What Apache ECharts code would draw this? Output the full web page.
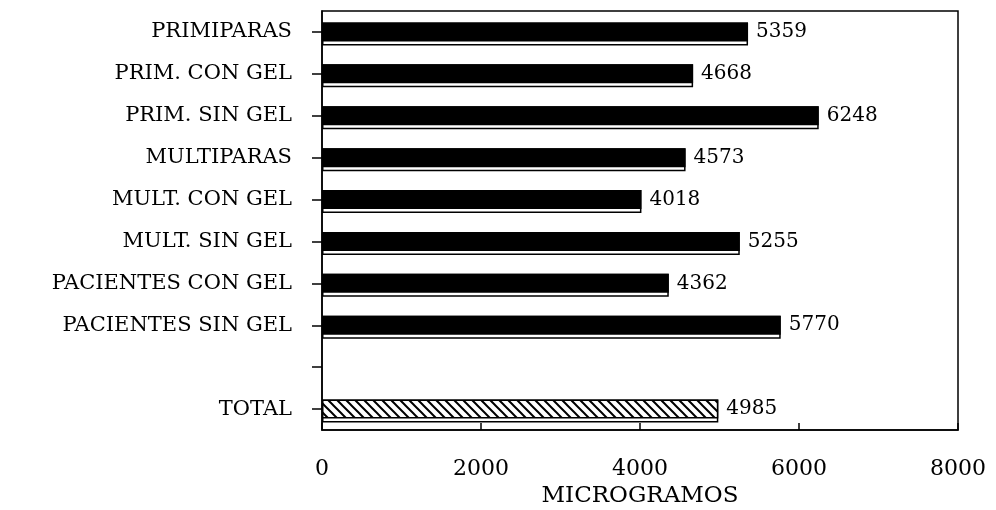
<!DOCTYPE html>
<html>
<head>
<meta charset="utf-8">
<script src="https://cdn.jsdelivr.net/npm/echarts@6/dist/echarts.min.js"></script>
<style>
  html, body { margin: 0; padding: 0; background: #fff; }
  #chart { width: 996px; height: 510px; }
</style>
</head>
<body>
<div id="chart"></div>
<script>
// categories top to bottom, the empty one is the gap row before TOTAL
const categories = [
  'PRIMIPARAS',
  'PRIM. CON GEL',
  'PRIM. SIN GEL',
  'MULTIPARAS',
  'MULT. CON GEL',
  'MULT. SIN GEL',
  'PACIENTES CON GEL',
  'PACIENTES SIN GEL',
  '',
  'TOTAL',
];
const values = [5359, 4668, 6248, 4573, 4018, 5255, 4362, 5770, null, 4985];
const xTicks = [0, 2000, 4000, 6000, 8000];

const FONT = 'DejaVu Serif';

// diagonal hatch for the TOTAL bar
function hatch() {
  const c = document.createElement('canvas');
  c.width = 9;
  c.height = 9;
  const ctx = c.getContext('2d');
  ctx.fillStyle = '#fff';
  ctx.fillRect(0, 0, 9, 9);
  ctx.strokeStyle = '#000';
  ctx.lineWidth = 2;
  ctx.beginPath();
  ctx.moveTo(-2, -2);
  ctx.lineTo(11, 11);
  ctx.moveTo(-11, -2);
  ctx.lineTo(2, 11);
  ctx.moveTo(7, -2);
  ctx.lineTo(20, 11);
  ctx.stroke();
  return c;
}
const hatchFill = { image: hatch(), repeat: 'repeat' };

const outlineData = values.map((v) => ({ value: v }));
const fillData = values.map((v, i) => {
  if (categories[i] === 'TOTAL') {
    return { value: v, itemStyle: { color: hatchFill, borderColor: '#000', borderWidth: 1.5 } };
  }
  return { value: v };
});

const chart = echarts.init(document.getElementById('chart'));
chart.setOption({
  animation: false,
  grid: {
    left: 322,
    right: 38,
    top: 11,
    bottom: 80,
    outerBoundsMode: 'none',
    show: true,
    borderColor: '#000',
    borderWidth: 1.5,
  },
  xAxis: {
    type: 'value',
    min: xTicks[0],
    max: xTicks[xTicks.length - 1],
    interval: 2000,
    splitLine: { show: false },
    axisLine: { show: true, lineStyle: { color: '#000', width: 1.5 } },
    axisTick: { show: true, inside: true, length: 7, lineStyle: { color: '#000', width: 1.5 } },
    axisLabel: {
      color: '#000',
      fontFamily: FONT,
      fontSize: 22,
      margin: 28,
      formatter: (v) => String(v),
    },
    name: 'MICROGRAMOS',
    nameLocation: 'middle',
    nameGap: 66,
    nameTextStyle: { color: '#000', fontFamily: FONT, fontSize: 23, verticalAlign: 'middle' },
  },
  yAxis: {
    type: 'category',
    inverse: true,
    data: categories,
    axisLine: { show: true, lineStyle: { color: '#000', width: 1.5 } },
    axisTick: { show: true, alignWithLabel: true, length: 10, lineStyle: { color: '#000', width: 1.5 } },
    axisLabel: { color: '#000', fontFamily: FONT, fontSize: 21, margin: 30, interval: 0 },
  },
  series: [
    {
      type: 'bar',
      data: outlineData,
      barWidth: 23,
      itemStyle: { color: '#fff', borderColor: '#000', borderWidth: 1.5 },
      silent: true,
    },
    {
      type: 'bar',
      data: fillData,
      barWidth: 19,
      barGap: '-100%',
      itemStyle: { color: '#000' },
      label: {
        show: true,
        position: 'right',
        distance: 8,
        color: '#000',
        fontFamily: FONT,
        fontSize: 20,
      },
    },
  ],
});
</script>
</body>
</html>
